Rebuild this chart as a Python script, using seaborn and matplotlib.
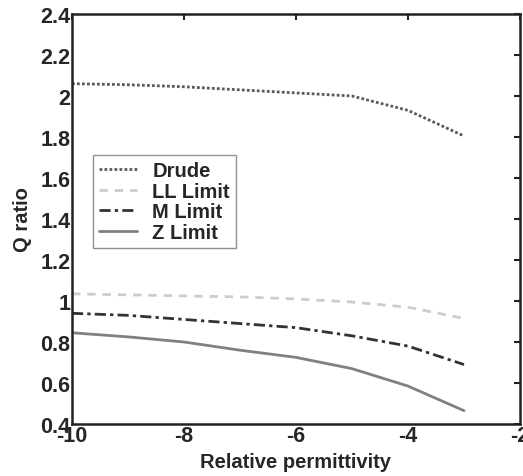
import matplotlib
matplotlib.use("Agg")
import matplotlib.pyplot as plt
import seaborn as sns
import pandas as pd

x_vals = [-10, -9, -8, -7, -6, -5, -4, -3]
drude = [2.06, 2.055, 2.045, 2.03, 2.015, 2.0, 1.93, 1.805]
ll_limit = [1.035, 1.03, 1.025, 1.02, 1.01, 0.995, 0.97, 0.915]
m_limit = [0.94, 0.93, 0.91, 0.89, 0.87, 0.83, 0.78, 0.69]
z_limit = [0.845, 0.825, 0.80, 0.76, 0.725, 0.67, 0.585, 0.465]
names = ["Drude", "LL Limit", "M Limit", "Z Limit"]
x_ticks = [-10, -8, -6, -4, -2]
y_ticks = [0.4, 0.6, 0.8, 1.0, 1.2, 1.4, 1.6, 1.8, 2.0, 2.2, 2.4]
y_tick_labels = ["0.4", "0.6", "0.8", "1", "1.2", "1.4", "1.6", "1.8", "2", "2.2", "2.4"]

sns.set_theme(style="white")
plt.rcParams['font.family'] = ['Liberation Sans', 'DejaVu Sans']
plt.rcParams['font.weight'] = 'bold'

frames = []
for n, v in zip(names, [drude, ll_limit, m_limit, z_limit]):
    frames.append(pd.DataFrame({"x": x_vals, "y": v, "series": n}))
df = pd.concat(frames)

fig = plt.figure(figsize=(5.23, 4.77), dpi=100)
ax = fig.add_axes([72/523, 52/477, 448/523, 410/477])

palette = {"Drude": "#5a5a5a", "LL Limit": "#cccccc", "M Limit": "#333333", "Z Limit": "#808080"}
dashes = {"Drude": (1, 0.8), "LL Limit": (3, 2.5), "M Limit": (4, 1.5, 1.2, 1.5), "Z Limit": ""}
sns.lineplot(data=df, x="x", y="y", hue="series", style="series", palette=palette,
             dashes=dashes, linewidth=2, ax=ax)

ax.set_xlim(-10, -2)
ax.set_ylim(0.4, 2.4)
ax.set_xticks(x_ticks)
ax.set_xticklabels([str(t) for t in x_ticks])
ax.set_yticks(y_ticks)
ax.set_yticklabels(y_tick_labels)
ax.tick_params(direction="in", top=True, right=True, length=4, width=1.5,
               labelsize=15.5, pad=1, color="#222222")
for lab in ax.get_xticklabels() + ax.get_yticklabels():
    lab.set_fontweight("bold")
for s in ax.spines.values():
    s.set_linewidth(1.8)
    s.set_color("#222222")
ax.set_xlabel("Relative permittivity", fontsize=14.5, fontweight="bold", labelpad=4)
ax.set_ylabel("Q ratio", fontsize=14.5, fontweight="bold", labelpad=6)

leg = ax.legend(loc="upper left", bbox_to_anchor=(0.047, 0.656), fontsize=14.5,
                frameon=True, fancybox=False, edgecolor="#777777",
                handlelength=1.9, borderpad=0.3, labelspacing=0.08, handletextpad=0.75,
                borderaxespad=0)
leg.get_frame().set_linewidth(1.0)
for t in leg.get_texts():
    t.set_fontweight("bold")

fig.savefig("out.png", dpi=100)
